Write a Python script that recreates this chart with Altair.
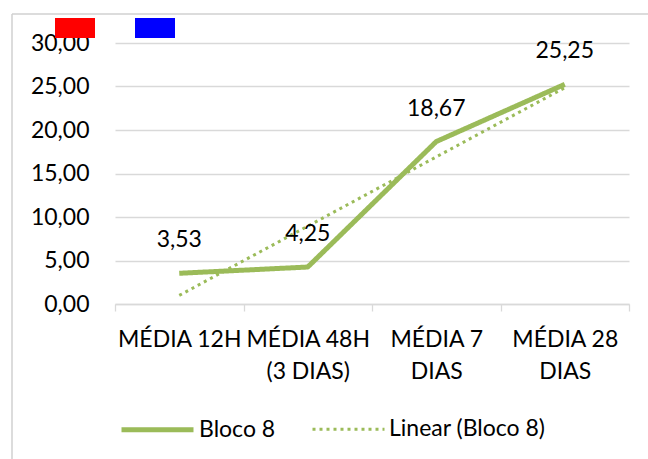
import altair as alt
import pandas as pd
import json

categories = ["MÉDIA 12H", "MÉDIA 48H (3 DIAS)", "MÉDIA 7 DIAS", "MÉDIA 28 DIAS"]
label_lines = [["MÉDIA 12H"], ["MÉDIA 48H", "(3 DIAS)"], ["MÉDIA 7", "DIAS"], ["MÉDIA 28", "DIAS"]]
bloco8 = [3.53, 4.25, 18.67, 25.25]
trend = [0.99, 8.95, 16.91, 24.86]
series_names = ["Bloco 8", "Linear (Bloco 8)"]
y_ticks = [0, 5, 10, 15, 20, 25, 30]

GREEN = "#9BBB59"
FONT = "Lato"
FS = 23

rows = []
for c, v in zip(categories, bloco8):
    rows.append({"cat": c, "value": v, "series": series_names[0]})
for c, v in zip(categories, trend):
    rows.append({"cat": c, "value": v, "series": series_names[1]})
df = pd.DataFrame(rows)
df_main = pd.DataFrame({"cat": categories, "value": bloco8})

lab_map = "{" + ",".join(f"{json.dumps(c)}:{json.dumps(l, ensure_ascii=False)}" for c, l in zip(categories, label_lines)) + "}"

x_enc = alt.X("cat:N", sort=categories, scale=alt.Scale(paddingInner=0, paddingOuter=0),
              axis=alt.Axis(title=None, labelAngle=0, labelFont=FONT, labelFontSize=FS,
                            labelColor="#000000", labelLineHeight=32, labelPadding=17,
                            labelExpr=f"{lab_map}[datum.label]",
                            domainColor="#d9d9d9", domainWidth=1.3, tickColor="#d9d9d9",
                            tickBand="extent", tickSize=7, tickWidth=1.3, grid=False))
y_enc = alt.Y("value:Q", scale=alt.Scale(domain=[0, 30], nice=False),
              axis=alt.Axis(title=None, values=y_ticks, domain=False, ticks=False,
                            gridColor="#d9d9d9", gridWidth=1.3, labelFont=FONT, labelFontSize=FS,
                            labelColor="#000000", labelPadding=26,
                            labelExpr="replace(format(datum.value, '.2f'), '.', ',')"))

legend = alt.Legend(title=None, orient="none", direction="horizontal", legendX=4, legendY=348,
                    symbolType="stroke", symbolSize=5184, labelFont=FONT, labelFontSize=FS,
                    labelColor="#000000", labelOffset=3, columnPadding=30)

lines = alt.Chart(df).mark_line(strokeCap="butt", strokeJoin="round").encode(
    x=x_enc, y=y_enc,
    color=alt.Color("series:N", scale=alt.Scale(domain=series_names, range=[GREEN, GREEN]), legend=legend),
    strokeDash=alt.StrokeDash("series:N", scale=alt.Scale(domain=series_names, range=[[1, 0], [3, 4]]), legend=legend),
    strokeWidth=alt.StrokeWidth("series:N", scale=alt.Scale(domain=series_names, range=[5, 3]), legend=legend),
    order=alt.Order("series:N"),
)

labels = alt.Chart(df_main).mark_text(dy=-33, font=FONT, fontSize=FS, color="#000000").encode(
    x=alt.X("cat:N", sort=categories), y="value:Q",
    text=alt.Text("label:N"),
).transform_calculate(label="replace(format(datum.value, '.2f'), '.', ',')")

one = pd.DataFrame({"a": [0]})
test_neg = alt.Chart(one).mark_rect(color="red").encode(
    x=alt.value(-60), x2=alt.value(-20), y=alt.value(-25), y2=alt.value(-5))
test_negy = alt.Chart(one).mark_rect(color="blue").encode(
    x=alt.value(20), x2=alt.value(60), y=alt.value(-25), y2=alt.value(-5))
border_top = alt.Chart(one).mark_rule(color="#d0d0d0", strokeWidth=1.5).encode(
    x=alt.value(-103), x2=alt.value(533), y=alt.value(-29))
border_left = alt.Chart(one).mark_rule(color="#d0d0d0", strokeWidth=1.5).encode(
    x=alt.value(-103), y=alt.value(-29), y2=alt.value(416))

chart = alt.layer(border_top, border_left, test_neg, test_negy, lines, labels).properties(
    width=514, height=261,
    padding={"left": 115, "top": 43, "right": 19, "bottom": 155},
    autosize=alt.AutoSizeParams(type="none"),
    background="white",
).configure_view(stroke=None)

chart.save("out.html", embed_options={"renderer": "svg", "actions": False})
